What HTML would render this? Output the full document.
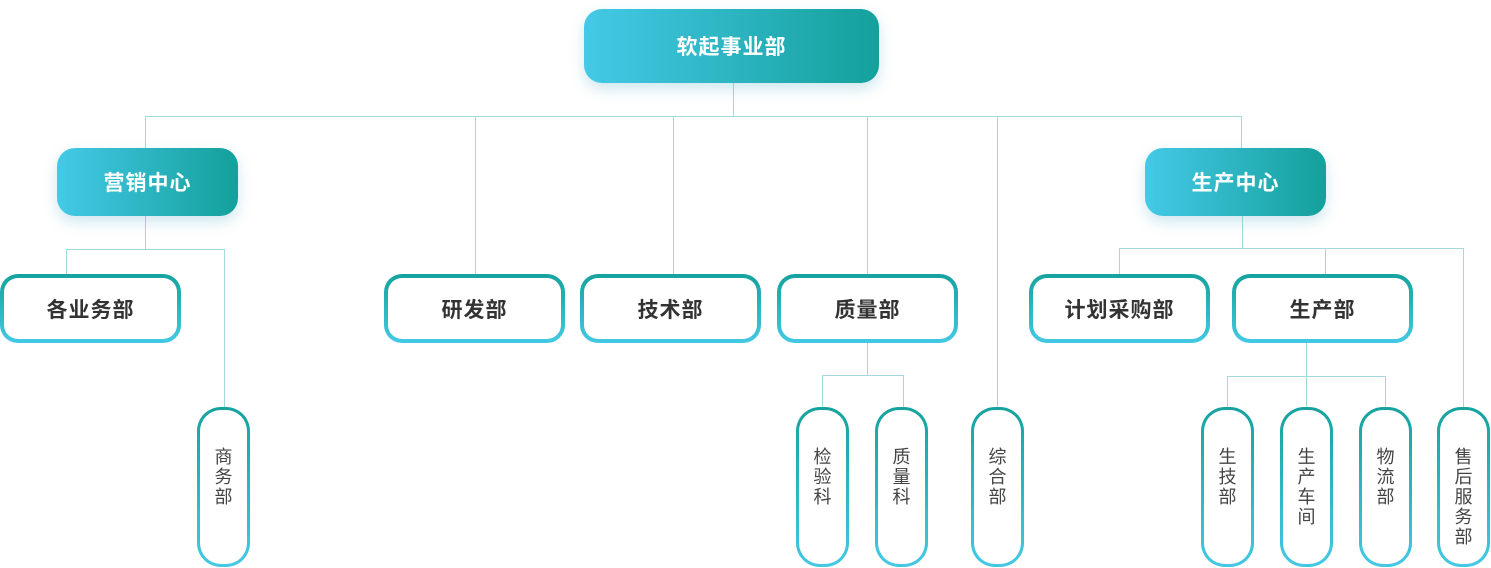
<!DOCTYPE html>
<html><head><meta charset="utf-8"><style>
body{margin:0;width:1491px;height:568px;position:relative;background:#fff;overflow:hidden;font-family:"Liberation Sans","Noto Sans CJK SC",sans-serif;}
.l{position:absolute;background:#a3d9dd;}
.g{position:absolute;display:flex;align-items:center;justify-content:center;color:#fff;font-weight:bold;font-size:21px;letter-spacing:1px;background:linear-gradient(90deg,#44c9e7,#14a09b);border-radius:18px;box-shadow:0 6px 14px rgba(60,160,190,0.25);}
.b{position:absolute;display:flex;align-items:center;justify-content:center;color:#333;font-weight:bold;font-size:21px;letter-spacing:1px;border:4px solid transparent;border-radius:18px;background:linear-gradient(#fff,#fff) padding-box,linear-gradient(180deg,#16a29e,#44c8e4) border-box;box-sizing:border-box;}
.v{position:absolute;top:407px;width:53px;height:160px;box-sizing:border-box;border:3px solid transparent;border-radius:24px;background:linear-gradient(#fff,#fff) padding-box,linear-gradient(180deg,#16a29e,#44c8e4) border-box;padding-top:37px;color:#444;font-size:18px;line-height:20px;text-align:center;}
</style></head><body>
<div class="l" style="left:733px;top:83px;width:1px;height:33px"></div>
<div class="l" style="left:145px;top:116px;width:1097px;height:1px"></div>
<div class="l" style="left:145px;top:116px;width:1px;height:32px"></div>
<div class="l" style="left:475px;top:116px;width:1px;height:158px"></div>
<div class="l" style="left:673px;top:116px;width:1px;height:158px"></div>
<div class="l" style="left:867px;top:116px;width:1px;height:158px"></div>
<div class="l" style="left:997px;top:116px;width:1px;height:291px"></div>
<div class="l" style="left:1241px;top:116px;width:1px;height:32px"></div>
<div class="l" style="left:145px;top:216px;width:1px;height:33px"></div>
<div class="l" style="left:66px;top:249px;width:159px;height:1px"></div>
<div class="l" style="left:66px;top:249px;width:1px;height:25px"></div>
<div class="l" style="left:224px;top:249px;width:1px;height:158px"></div>
<div class="l" style="left:867px;top:342px;width:1px;height:33px"></div>
<div class="l" style="left:822px;top:375px;width:82px;height:1px"></div>
<div class="l" style="left:822px;top:375px;width:1px;height:32px"></div>
<div class="l" style="left:903px;top:375px;width:1px;height:32px"></div>
<div class="l" style="left:1242px;top:216px;width:1px;height:32px"></div>
<div class="l" style="left:1119px;top:248px;width:345px;height:1px"></div>
<div class="l" style="left:1119px;top:248px;width:1px;height:26px"></div>
<div class="l" style="left:1325px;top:248px;width:1px;height:26px"></div>
<div class="l" style="left:1463px;top:248px;width:1px;height:159px"></div>
<div class="l" style="left:1306px;top:342px;width:1px;height:65px"></div>
<div class="l" style="left:1227px;top:376px;width:159px;height:1px"></div>
<div class="l" style="left:1227px;top:376px;width:1px;height:31px"></div>
<div class="l" style="left:1385px;top:376px;width:1px;height:31px"></div>

<div class="g" style="left:584px;top:9px;width:295px;height:74px">软起事业部</div>
<div class="g" style="left:57px;top:148px;width:181px;height:68px">营销中心</div>
<div class="g" style="left:1145px;top:148px;width:181px;height:68px">生产中心</div>

<div class="b" style="left:0;top:274px;width:181px;height:69px">各业务部</div>
<div class="b" style="left:384px;top:274px;width:181px;height:69px">研发部</div>
<div class="b" style="left:580px;top:274px;width:181px;height:69px">技术部</div>
<div class="b" style="left:777px;top:274px;width:181px;height:69px">质量部</div>
<div class="b" style="left:1029px;top:274px;width:181px;height:69px">计划采购部</div>
<div class="b" style="left:1232px;top:274px;width:181px;height:69px">生产部</div>

<div class="v" style="left:197px">商<br>务<br>部</div>
<div class="v" style="left:796px">检<br>验<br>科</div>
<div class="v" style="left:875px">质<br>量<br>科</div>
<div class="v" style="left:971px">综<br>合<br>部</div>
<div class="v" style="left:1201px">生<br>技<br>部</div>
<div class="v" style="left:1280px">生<br>产<br>车<br>间</div>
<div class="v" style="left:1359px">物<br>流<br>部</div>
<div class="v" style="left:1437px">售<br>后<br>服<br>务<br>部</div>
</body></html>
